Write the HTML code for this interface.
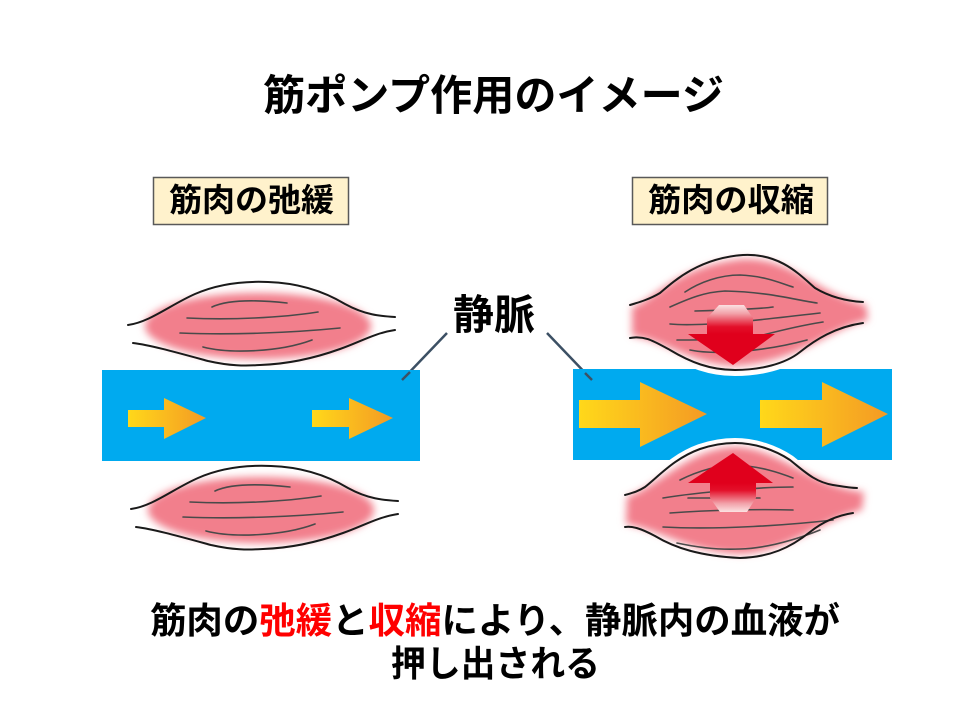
<!DOCTYPE html>
<html>
<head>
<meta charset="utf-8">
<style>
html,body{margin:0;padding:0;background:#fff;}
svg{display:block;}
text{font-family:"Liberation Sans","Noto Sans CJK JP",sans-serif;font-weight:700;}
</style>
</head>
<body>
<svg width="960" height="720" viewBox="0 0 960 720" xmlns="http://www.w3.org/2000/svg">
<defs>
  <linearGradient id="ya" x1="0" y1="0" x2="1" y2="0">
    <stop offset="0" stop-color="#FFD81A"/>
    <stop offset="1" stop-color="#F49A24"/>
  </linearGradient>
  <linearGradient id="rd" x1="0" y1="305" x2="0" y2="334" gradientUnits="userSpaceOnUse">
    <stop offset="0" stop-color="#FBE2E2"/>
    <stop offset="0.3" stop-color="#F2A0A8"/>
    <stop offset="0.75" stop-color="#E3102A"/>
    <stop offset="1" stop-color="#E0001C"/>
  </linearGradient>
  <linearGradient id="ru" x1="0" y1="512" x2="0" y2="483" gradientUnits="userSpaceOnUse">
    <stop offset="0" stop-color="#FBE2E2"/>
    <stop offset="0.3" stop-color="#F2A0A8"/>
    <stop offset="0.75" stop-color="#E3102A"/>
    <stop offset="1" stop-color="#E0001C"/>
  </linearGradient>
  <radialGradient id="pk" cx="0.5" cy="0.5" r="0.5">
    <stop offset="0" stop-color="#F07886"/>
    <stop offset="0.7" stop-color="#F27F8C"/>
    <stop offset="1" stop-color="#F49AA3"/>
  </radialGradient>
  <filter id="bl" x="-20%" y="-40%" width="140%" height="180%">
    <feGaussianBlur stdDeviation="4"/>
  </filter>
</defs>

<!-- Title -->
<text x="263" y="110" font-size="42" textLength="461" lengthAdjust="spacingAndGlyphs" fill="#000">筋ポンプ作用のイメージ</text>

<!-- Label boxes -->
<rect x="153.5" y="177.5" width="195" height="47" fill="#FFF2CC" stroke="#595959" stroke-width="1.5"/>
<text x="169" y="211" font-size="32" textLength="165" lengthAdjust="spacingAndGlyphs" fill="#000">筋肉の弛緩</text>
<rect x="632.5" y="177.5" width="195" height="47" fill="#FFF2CC" stroke="#595959" stroke-width="1.5"/>
<text x="648" y="211" font-size="32" textLength="166" lengthAdjust="spacingAndGlyphs" fill="#000">筋肉の収縮</text>

<!-- 静脈 label -->
<text x="453" y="329" font-size="41" textLength="82" lengthAdjust="spacingAndGlyphs" fill="#000">静脈</text>
<line x1="447" y1="333" x2="402" y2="380" stroke="#3C5064" stroke-width="2.5"/>
<line x1="547" y1="333" x2="592" y2="380" stroke="#3C5064" stroke-width="2.5"/>

<!-- ============ LEFT (relaxed) ============ -->
<rect x="102" y="370" width="318" height="91" fill="#00AAEF"/>
<line x1="402" y1="380" x2="410" y2="372" stroke="#3C5064" stroke-width="2.5"/>
<polygon points="128,410 164,410 164,398 206,418 164,439 164,427 128,427" fill="url(#ya)"/>
<polygon points="312,410 349,410 349,398 393,418 349,439 349,427 312,427" fill="url(#ya)"/>

<g id="lm">
  <ellipse cx="258" cy="326" rx="113" ry="33" fill="#F27F8C" filter="url(#bl)"/>
  <g fill="none" stroke="#4a4a4a" stroke-width="1.6" stroke-linecap="round">
    <path d="M212,307 C225,301 250,299 287,303"/>
    <path d="M187,318 C230,320 280,318 318,312"/>
    <path d="M180,333 C230,335 290,333 340,328"/>
    <path d="M203,347 C230,354 280,352 312,340"/>
  </g>
  <g fill="none" stroke="#1a1a1a" stroke-width="2" stroke-linecap="round">
    <path d="M128,325 C150,322 170,305 195,294 C220,283 245,281 268,282 C300,283 325,292 345,304 C365,315 380,316 395,317"/>
    <path d="M133,343 C150,345 175,352 208,361 C230,366 245,366 260,365 C290,364 315,358 340,349 C360,342 375,333 395,330"/>
  </g>
</g>
<use href="#lm" transform="translate(3,184)"/>

<!-- ============ RIGHT (contracted) ============ -->
<rect x="573" y="369" width="319" height="91" fill="#00AAEF"/>
<line x1="585" y1="373" x2="592" y2="380" stroke="#3C5064" stroke-width="2.5"/>
<path d="M630,338 C645,335 655,342 670,350 C690,362 710,370 735,370 C760,370 785,364 800,352 C815,340 835,327 863,323" fill="none" stroke="#fff" stroke-width="12"/>
<path d="M625,495 C632,493 637,492 645,487 C660,475 675,458 700,449 C715,444 725,443 735,443 C755,443 775,450 790,460 C805,472 815,482 833,485 C845,487 850,488 857,488" fill="none" stroke="#fff" stroke-width="10"/>
<polygon points="579,400 640,400 640,382 707,414 640,447 640,428 579,428" fill="url(#ya)"/>
<polygon points="760,400 822,400 822,382 888,414 822,447 822,428 760,428" fill="url(#ya)"/>

<!-- top right muscle -->
<path d="M630,305 C640,302 650,299 660,293 C675,280 700,258 743,255 C780,253 800,275 815,288 C830,297 845,301 863,302 L863,323 C835,327 815,340 800,352 C785,364 760,370 735,370 C710,370 690,362 670,350 C655,342 645,335 630,338 Z" fill="#fff"/>
<path d="M632,307 C655,300 675,266 743,259 C795,258 815,293 866,305 L868,320 C830,328 800,362 735,366 C690,364 665,340 632,336 Z" fill="#F27F8C" filter="url(#bl)"/>
<g fill="none" stroke="#4a4a4a" stroke-width="1.6" stroke-linecap="round">
  <path d="M685,292 C700,282 720,275 740,275 C765,276 780,283 793,287"/>
  <path d="M670,307 C690,298 705,292 725,291 C770,292 795,300 817,303"/>
  <path d="M695,311 C730,310 760,309 773,307"/>
  <path d="M670,324 C700,327 760,320 820,313"/>
  <path d="M677,340 C700,340 740,340 763,335 C790,328 810,324 823,322"/>
  <path d="M690,350 C720,356 770,350 807,340"/>
</g>
<g fill="none" stroke="#1a1a1a" stroke-width="2" stroke-linecap="round">
  <path d="M630,305 C640,302 650,299 660,293 C675,280 700,258 743,255 C780,253 800,275 815,288 C830,297 845,301 863,302"/>
  <path d="M630,338 C645,335 655,342 670,350 C690,362 710,370 735,370 C760,370 785,364 800,352 C815,340 835,327 863,323"/>
</g>
<polygon points="719,305 744,305 753,318 753,334 775,334 733,365 688,334 707,334 707,318" fill="url(#rd)"/>

<!-- bottom right muscle -->
<path d="M625,495 C632,493 637,492 645,487 C660,475 675,458 700,449 C715,444 725,443 735,443 C755,443 775,450 790,460 C805,472 815,482 833,485 C845,487 850,488 857,488 L853,513 C840,515 825,520 810,532 C790,548 770,557 740,558 C700,556 675,548 655,536 C640,528 632,526 625,527 Z" fill="#fff"/>
<path d="M627,497 C660,485 690,448 735,447 C780,448 810,486 864,492 L862,510 C820,520 790,552 740,554 C690,552 660,530 626,524 Z" fill="#F27F8C" filter="url(#bl)"/>
<g fill="none" stroke="#4a4a4a" stroke-width="1.6" stroke-linecap="round">
  <path d="M680,480 C700,470 720,465 735,465 C760,466 780,473 793,478"/>
  <path d="M663,498 C700,492 760,487 793,487"/>
  <path d="M688,498 L760,498"/>
  <path d="M670,513 C710,510 760,509 793,510"/>
  <path d="M663,527 C720,530 790,525 833,520"/>
  <path d="M677,543 C700,548 720,550 740,549 C770,548 800,538 820,530"/>
</g>
<g fill="none" stroke="#1a1a1a" stroke-width="2" stroke-linecap="round">
  <path d="M625,495 C632,493 637,492 645,487 C660,475 675,458 700,449 C715,444 725,443 735,443 C755,443 775,450 790,460 C805,472 815,482 833,485 C845,487 850,488 857,488"/>
  <path d="M625,527 C632,526 640,528 655,536 C675,548 700,556 740,558 C770,557 790,548 810,532 C825,520 840,515 853,513"/>
</g>
<polygon points="733,453 773,483 756,483 756,498 747,512 720,512 710,498 710,483 688,483" fill="url(#ru)"/>

<!-- Bottom caption -->
<text x="150" y="633" font-size="36" textLength="690" lengthAdjust="spacingAndGlyphs" fill="#000">筋肉の<tspan fill="#FF0000">弛緩</tspan>と<tspan fill="#FF0000">収縮</tspan>により、静脈内の血液が</text>
<text x="391" y="676" font-size="36" textLength="209" lengthAdjust="spacingAndGlyphs" fill="#000">押し出される</text>
</svg>
</body>
</html>
